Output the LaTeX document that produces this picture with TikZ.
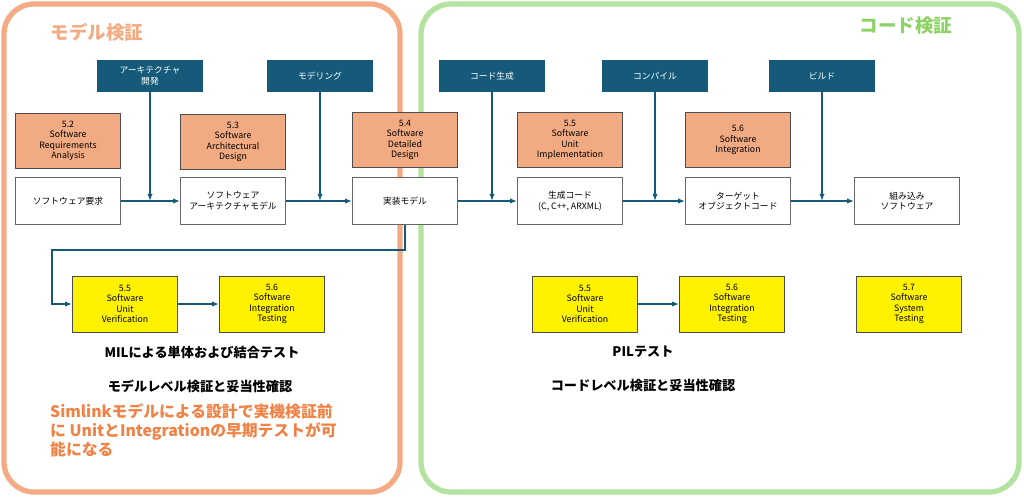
\documentclass[tikz,border=0pt]{standalone}
\usepackage{fontspec}
\setmainfont{Noto Sans CJK JP}
\usetikzlibrary{positioning,arrows.meta}
\definecolor{framered}{RGB}{244,170,130}
\definecolor{framegreen}{RGB}{178,228,160}
\definecolor{taskblue}{RGB}{22,90,122}
\definecolor{procorange}{RGB}{242,170,130}
\definecolor{titleorange}{RGB}{240,130,70}
\definecolor{titlegreen}{RGB}{140,210,100}
\tikzset{
  task/.style={draw=taskblue,fill=taskblue,text=white,minimum width=2.1cm,minimum height=0.62cm,inner sep=1pt,align=center,font=\fontsize{5}{6}\selectfont},
  proc/.style={draw=black!70,fill=procorange,minimum width=2.1cm,minimum height=1.1cm,inner sep=1pt,align=center,font=\fontsize{5}{6}\selectfont},
  work/.style={draw=black!60,fill=white,minimum width=2.1cm,minimum height=0.94cm,inner sep=1pt,align=center,font=\fontsize{5}{6}\selectfont},
  test/.style={draw=black!70,fill=yellow,minimum width=2.1cm,minimum height=1.12cm,inner sep=1pt,align=center,font=\fontsize{5}{6}\selectfont},
  flow/.style={taskblue,thick,-{Latex[length=4pt]}},
  note/.style={font=\bfseries\fontsize{7.5}{9}\selectfont}
}
\begin{document}
\begin{tikzpicture}[x=0.02cm,y=-0.02cm]
\useasboundingbox (0,0) rectangle (1024,497);
% frames
\draw[framered,line width=3pt,rounded corners=0.6cm] (4,4) rectangle (400,492);
\draw[framegreen,line width=3pt,rounded corners=0.6cm] (421,4) rectangle (1019,492);
\node[text=framered,font=\bfseries\fontsize{10.5}{12}\selectfont] (tmodel) at (97,32) {モデル検証};
\node[text=titlegreen,font=\bfseries\fontsize{10.5}{12}\selectfont] (tcode) at (906,26) {コード検証};

% tasks
\node[task] (arch) at (150,76) {アーキテクチャ\\開発};
\node[task] (mdl) at (320,76) {モデリング};
\node[task] (gen) at (492,76) {コード生成};
\node[task] (cmp) at (655,76) {コンパイル};
\node[task] (bld) at (822,76) {ビルド};

% processes
\node[proc] (p52) at (68,141) {5.2\\Software\\Requirements\\Analysis};
\node[proc] (p53) at (233,142) {5.3\\Software\\Architectural\\Design};
\node[proc] (p54) at (405,140) {5.4\\Software\\Detailed\\Design};
\node[proc] (p55) at (570,140) {5.5\\Software\\Unit\\Implementation};
\node[proc] (p56) at (738,140) {5.6\\Software\\Integration};

% work products
\node[work] (req) at (68,201) {ソフトウェア要求};
\node[work] (archm) at (233,201) {ソフトウェア\\アーキテクチャモデル};
\node[work] (impl) at (405,201) {実装モデル};
\node[work] (code) at (570,201) {生成コード\\(C, C++, ARXML)};
\node[work] (obj) at (738,201) {ターゲット\\オブジェクトコード};
\node[work] (emb) at (907,201) {組み込み\\ソフトウェア};

% tests
\node[test] (mu) at (125,304) {5.5\\Software\\Unit\\Verification};
\node[test] (mi) at (272,304) {5.6\\Software\\Integration\\Testing};
\node[test] (pu) at (585,304) {5.5\\Software\\Unit\\Verification};
\node[test] (pi) at (732,304) {5.6\\Software\\Integration\\Testing};
\node[test] (ps) at (909,304) {5.7\\Software\\System\\Testing};

% flow
\draw[flow] (req) -- (archm);
\draw[flow] (archm) -- (impl);
\draw[flow] (impl) -- (code);
\draw[flow] (code) -- (obj);
\draw[flow] (obj) -- (emb);
\draw[flow] (arch.south) -- (arch.south |- req.east);
\draw[flow] (mdl.south) -- (mdl.south |- req.east);
\draw[flow] (gen.south) -- (gen.south |- req.east);
\draw[flow] (cmp.south) -- (cmp.south |- req.east);
\draw[flow] (bld.south) -- (bld.south |- req.east);
\draw[flow] (impl.south) -- ++(0,25) -| (52,304) -- (mu.west);
\draw[flow] (mu) -- (mi);
\draw[flow] (pu) -- (pi);

% notes
\node[note] (nmil) at (202,352) {MILによる単体および結合テスト};
\node[note] (nmodel) at (200,386) {モデルレベル検証と妥当性確認};
\node[note] (npil) at (643,352) {PILテスト};
\node[note] (ncode) at (643,386) {コードレベル検証と妥当性確認};
\node[note,text=titleorange,font=\bfseries\fontsize{9}{11}\selectfont,align=left,anchor=north west] (nsim) at (44,397) {Simlinkモデルによる設計で実機検証前\\に UnitとIntegrationの早期テストが可\\能になる};
\end{tikzpicture}
\end{document}
